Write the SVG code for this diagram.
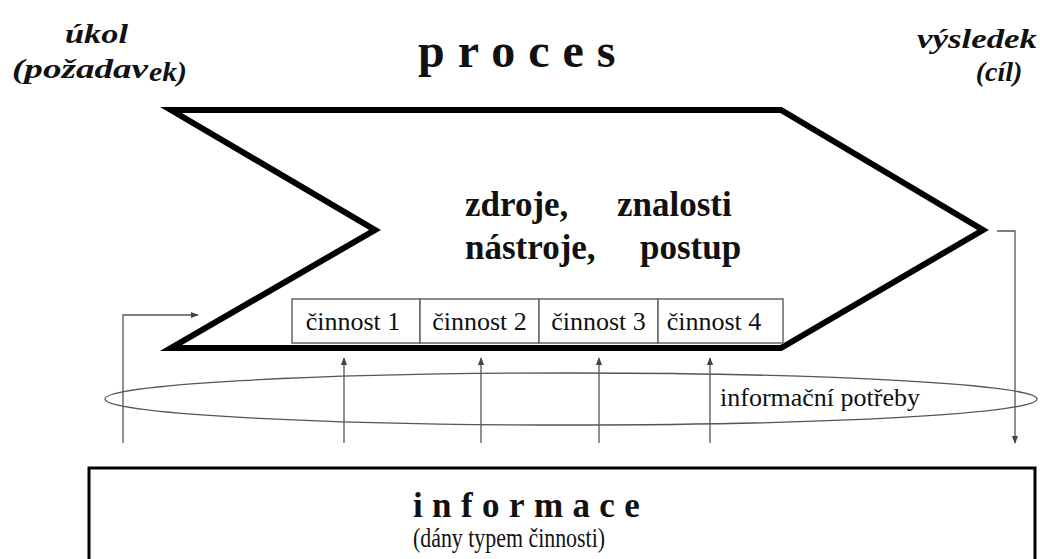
<svg xmlns="http://www.w3.org/2000/svg" width="1040" height="559" viewBox="0 0 1040 559" font-family="Liberation Serif, serif">
<defs>
<marker id="ah" viewBox="0 0 10 10" refX="9" refY="5" markerWidth="6" markerHeight="6" orient="auto">
<path d="M0,1 L10,5 L0,9 z" fill="#444"/>
</marker>
<style>
text{fill:#111}
.bi{font-weight:bold;font-style:italic;font-size:28px}
.b{font-weight:bold}
.act{fill:#fff;stroke:#666;stroke-width:1.5}
.lbl{font-size:26px}
.conn{fill:none;stroke:#555;stroke-width:1.3}
</style>
</defs>
<rect width="1040" height="559" fill="#fff"/>
<g id="title-ukol">
<text class="bi" x="65" y="43" textLength="63" lengthAdjust="spacingAndGlyphs">úkol</text>
<text class="bi" y="78"><tspan x="12" textLength="136" lengthAdjust="spacingAndGlyphs">(požadav</tspan><tspan x="149" dy="3" textLength="38" lengthAdjust="spacingAndGlyphs">ek)</tspan></text>
</g>
<g id="title-vysledek">
<text class="bi" x="917" y="48" textLength="120" lengthAdjust="spacingAndGlyphs">výsledek</text>
<text class="bi" x="999" y="81" text-anchor="middle">(cíl)</text>
</g>
<g id="title-proces">
<text class="b" x="418" y="67" font-size="48" letter-spacing="13">proces</text>
</g>
<g id="proces">
<polygon points="171,110 781,110 983,230 781,348 171,348 375,230" fill="#fff" stroke="#000" stroke-width="6" stroke-linejoin="miter"/>
<text class="b" font-size="35" x="465" y="216">zdroje,<tspan x="617">znalosti</tspan></text>
<text class="b" font-size="35" x="465" y="259">nástroje,<tspan x="640">postup</tspan></text>
</g>
<g id="cinnost-1"><rect class="act" x="292" y="299" width="128" height="44"/><text class="lbl" x="353" y="330" text-anchor="middle">činnost 1</text></g>
<g id="cinnost-2"><rect class="act" x="420" y="299" width="119" height="44"/><text class="lbl" x="479.5" y="330" text-anchor="middle">činnost 2</text></g>
<g id="cinnost-3"><rect class="act" x="539" y="299" width="119" height="44"/><text class="lbl" x="598.5" y="330" text-anchor="middle">činnost 3</text></g>
<g id="cinnost-4"><rect class="act" x="658" y="299" width="125" height="44"/><text class="lbl" x="714" y="330" text-anchor="middle">činnost 4</text></g>
<g id="informacni-potreby">
<ellipse cx="571" cy="399" rx="466" ry="26" fill="none" stroke="#555" stroke-width="1.3"/>
<text class="lbl" x="720" y="406">informační potřeby</text>
</g>
<g id="informace">
<rect x="89" y="468" width="946" height="100" fill="#fff" stroke="#000" stroke-width="3"/>
<text class="b" font-size="35" x="413" y="517" letter-spacing="9.4">informace</text>
<text font-size="27" x="413" y="547" textLength="192" lengthAdjust="spacingAndGlyphs">(dány typem činnosti)</text>
</g>
<g id="connectors">
<path class="conn" d="M123,443 V315 H198" marker-end="url(#ah)"/>
<path class="conn" d="M997,231 H1015 V443" marker-end="url(#ah)"/>
<path class="conn" d="M344,443 V358" marker-end="url(#ah)"/>
<path class="conn" d="M481,443 V358" marker-end="url(#ah)"/>
<path class="conn" d="M599,443 V358" marker-end="url(#ah)"/>
<path class="conn" d="M710,443 V358" marker-end="url(#ah)"/>
</g>
</svg>
